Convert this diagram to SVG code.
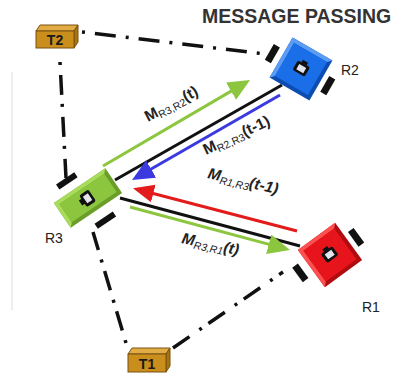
<svg xmlns="http://www.w3.org/2000/svg" width="403" height="373" viewBox="0 0 403 373">
  <style>
    .title { font-family: "Liberation Sans", Arial, sans-serif; font-weight: bold; font-size: 19.5px; fill: #333; }
    .rl { font-family: "Liberation Sans", Arial, sans-serif; font-size: 14px; fill: #222; }
    .msg { font-family: "Liberation Sans", Arial, sans-serif; font-size: 15.5px; font-weight: bold; fill: #222; }
    .msg .sub { font-size: 10.5px; font-weight: normal; }
    .it { font-style: italic; }
    .tl { font-family: "Liberation Sans", Arial, sans-serif; font-weight: bold; font-size: 14px; fill: #1a1a1a; text-anchor: middle; }
    .link { stroke: #111; stroke-width: 3.5; fill: none; }
    .wheel { fill: #111; }
    .ctrl { fill: none; stroke-width: 3; }
    .box-front { fill: #c98e1c; stroke: #7a5210; stroke-width: 1; }
    .box-top { fill: #e2ac45; stroke: #7a5210; stroke-width: 1; }
    .box-side { fill: #a8740f; stroke: #7a5210; stroke-width: 1; }
  </style>
  <defs>
    <marker id="ah-green" markerUnits="userSpaceOnUse" markerWidth="24" markerHeight="22" refX="12" refY="10" orient="auto">
      <path d="M0,0 L22,10 L0,20 z" fill="#8cc63e"/>
    </marker>
    <marker id="ah-blue" markerUnits="userSpaceOnUse" markerWidth="24" markerHeight="22" refX="12" refY="10" orient="auto">
      <path d="M0,0 L22,10 L0,20 z" fill="#3a3ae0"/>
    </marker>
    <marker id="ah-red" markerUnits="userSpaceOnUse" markerWidth="24" markerHeight="22" refX="12" refY="10" orient="auto">
      <path d="M0,1 L21,10 L0,19 z" fill="#e41b1b"/>
    </marker>
    <g id="cam">
      <rect x="-3" y="-9" width="6" height="4" fill="#111"/>
      <rect x="-7" y="-6" width="14" height="11" rx="2" fill="#111"/>
      <rect x="-4" y="-3.5" width="8" height="6" fill="#e4e4ee"/>
    </g>
  </defs>

  <!-- thin frame line at the left edge -->
  <line x1="12" y1="72" x2="12" y2="310" stroke="#dcdcdc" stroke-width="1"/>

  <text class="title" x="202" y="23">MESSAGE PASSING</text>

  <!-- connectors -->
  <g id="connectors">
    <!-- dash-dot links between targets and robots -->
    <line class="link" x1="82" y1="32" x2="265" y2="54" stroke-dasharray="3 10 21 10"/>
    <line class="link" x1="60" y1="62" x2="66" y2="178" stroke-dasharray="3 10 20 9"/>
    <line class="link" x1="126" y1="343" x2="93" y2="232" stroke-dasharray="3 10 20 9"/>
    <line class="link" x1="173" y1="348" x2="283" y2="272" stroke-dasharray="20 12 3 8"/>

    <!-- communication links -->
    <line x1="115" y1="180" x2="282" y2="85" stroke="#111" stroke-width="3"/>
    <line x1="120" y1="198" x2="300" y2="246" stroke="#111" stroke-width="3"/>

    <!-- messages -->
    <line class="ctrl" x1="103" y1="166" x2="241.4" y2="85.1" stroke="#8cc63e" stroke-width="4" marker-end="url(#ah-green)"/>
    <line class="ctrl" x1="280" y1="95" x2="140.7" y2="175" stroke="#3a3ae0" stroke-width="3" marker-end="url(#ah-blue)"/>
    <line class="ctrl" x1="297" y1="231" x2="141.7" y2="190.5" stroke="#e41b1b" stroke-width="4" marker-end="url(#ah-red)"/>
    <line class="ctrl" x1="130" y1="207" x2="280.3" y2="247.4" stroke="#8cc63e" stroke-width="4" marker-end="url(#ah-green)"/>
  </g>

  <!-- message labels -->
  <text class="msg" transform="translate(148,122) rotate(-28)">M<tspan class="sub" dy="3">R3,R2</tspan><tspan dy="-3">(t)</tspan></text>
  <text class="msg" transform="translate(206,155) rotate(-25)">M<tspan class="sub" dy="3">R2,R3</tspan><tspan dy="-3">(t-1)</tspan></text>
  <text class="msg it" transform="translate(207,178) rotate(13)">M<tspan class="sub" dy="3">R1,R3</tspan><tspan dy="-3">(t-1)</tspan></text>
  <text class="msg it" transform="translate(181,243) rotate(12)">M<tspan class="sub" dy="3">R3,R1</tspan><tspan dy="-3">(t)</tspan></text>

  <!-- target T2 -->
  <g id="T2">
    <polygon class="box-top" points="36,31 40,25 78,25 74,31"/>
    <polygon class="box-side" points="74,31 78,25 78,42 74,48"/>
    <rect class="box-front" x="36" y="31" width="38" height="17"/>
    <text class="tl" x="55" y="45">T2</text>
  </g>

  <!-- target T1 -->
  <g id="T1">
    <polygon class="box-top" points="128,354 132,348 170,348 166,354"/>
    <polygon class="box-side" points="166,354 170,348 170,366 166,372"/>
    <rect class="box-front" x="128" y="354" width="38" height="18"/>
    <text class="tl" x="147" y="369">T1</text>
  </g>

  <!-- robot R2 -->
  <g id="R2">
    <g transform="translate(301,69) rotate(30)">
      <rect class="wheel" x="-36" y="-8" width="7" height="18"/>
      <rect class="wheel" x="28" y="-8" width="7" height="18"/>
      <rect x="-23" y="-23" width="46" height="46" fill="#0d4cb0"/>
      <polygon points="-23,-23 23,-23 19,-19 -19,-19 -19,19 -23,23" fill="#5a9cf6"/>
      <rect x="-19" y="-19" width="38" height="38" fill="#1a6ee8"/>
      <use href="#cam"/>
    </g>
    <text class="rl" x="341" y="75">R2</text>
  </g>

  <!-- robot R3 -->
  <g id="R3">
    <g transform="translate(88,198) rotate(-34)">
      <rect class="wheel" x="-19" y="-29" width="22" height="6"/>
      <rect class="wheel" x="-9" y="25" width="22" height="6"/>
      <rect x="-31" y="-15" width="62" height="30" fill="#6a9e28"/>
      <polygon points="-31,-15 31,-15 27,-11 -27,-11 -27,11 -31,15" fill="#a9db5c"/>
      <rect x="-27" y="-11" width="54" height="22" fill="#8cc63e"/>
      <g transform="rotate(-90)"><use href="#cam"/></g>
    </g>
    <text class="rl" x="45" y="243">R3</text>
  </g>

  <!-- robot R1 -->
  <g id="R1">
    <g transform="translate(330,255) rotate(-36)">
      <rect class="wheel" x="28" y="-8" width="7" height="18"/>
      <rect class="wheel" x="-38" y="-12" width="7" height="18"/>
      <rect x="-23" y="-23" width="46" height="46" fill="#b00c10"/>
      <polygon points="-23,-23 23,-23 19,-19 -19,-19 -19,19 -23,23" fill="#ff5050"/>
      <rect x="-19" y="-19" width="38" height="38" fill="#e8141c"/>
      <use href="#cam"/>
    </g>
    <text class="rl" x="362" y="312">R1</text>
  </g>
</svg>
